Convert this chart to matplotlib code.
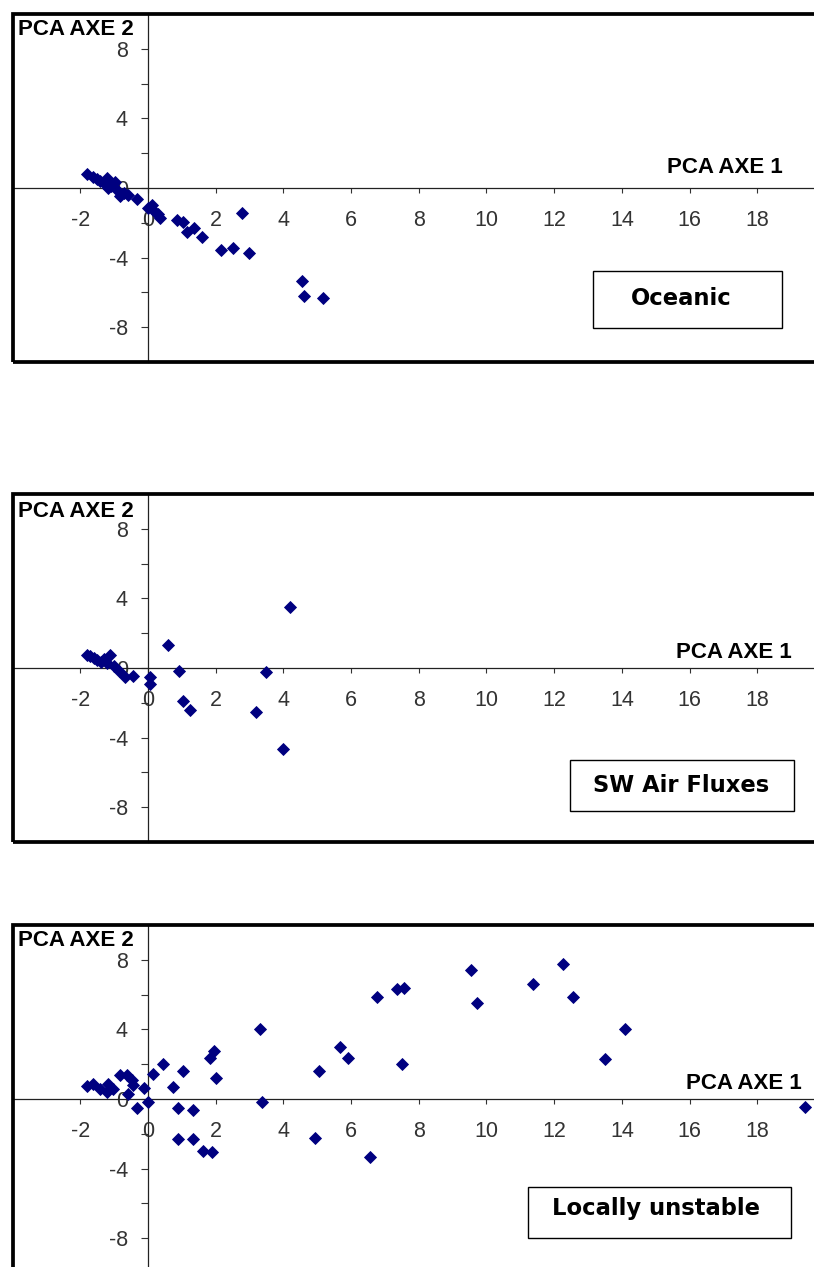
import matplotlib
matplotlib.use('Agg')
import matplotlib.pyplot as plt
from matplotlib.patches import Rectangle

plt.rcParams['axes.unicode_minus'] = False
plt.rcParams['font.family'] = ['Liberation Sans', 'DejaVu Sans']

# ---------------- data ----------------
oceanic_x = [-1.81, -1.62, -1.50, -1.42, -1.30, -1.22, -1.12, -1.10, -0.97, -1.17, -0.90,
             -0.83, -0.70, -0.58, -0.33, 0.11, 0.01, 0.21, 0.30, 0.35, 0.85, 1.04, 1.14,
             1.36, 1.59, 2.15, 2.52, 2.77, 2.99, 4.54, 4.61, 5.16]
oceanic_y = [0.80, 0.61, 0.50, 0.42, 0.30, 0.56, 0.27, 0.10, 0.36, -0.02, -0.20,
             -0.46, -0.30, -0.40, -0.65, -0.98, -1.17, -1.36, -1.50, -1.74, -1.84, -1.94, -2.51,
             -2.32, -2.84, -3.56, -3.47, -1.46, -3.75, -5.33, -6.21, -6.30]

sw_x = [-1.81, -1.70, -1.60, -1.50, -1.40, -1.30, -1.20, -1.12, -1.00, -0.85, -0.68, -0.45,
        0.06, 0.06, 0.60, 0.93, 1.02, 1.24, 3.19, 3.48, 4.00, 4.19]
sw_y = [0.75, 0.70, 0.55, 0.45, 0.35, 0.50, 0.30, 0.72, 0.10, -0.15, -0.50, -0.45,
        -0.50, -0.92, 1.32, -0.15, -1.88, -2.41, -2.55, -0.25, -4.66, 3.52]

local_x = [-1.81, -1.62, -1.42, -1.17, -1.22, -1.03, -0.83, -0.63, -0.48, -0.43, -0.58,
           -0.12, 0.01, -0.33, 0.16, 0.43, 0.75, 1.02, 0.88, 1.34, 0.88, 1.34, 1.63, 1.90,
           1.83, 1.96, 2.01, 3.31, 3.38, 4.93, 5.05, 5.67, 5.92, 6.56, 6.77, 7.37, 7.56,
           7.49, 9.53, 9.71, 11.38, 12.25, 12.56, 13.50, 14.10, 19.41]
local_y = [0.77, 0.85, 0.57, 0.86, 0.42, 0.60, 1.38, 1.38, 1.09, 0.80, 0.29,
           0.61, -0.15, -0.54, 1.44, 1.99, 0.71, 1.61, -0.52, -0.61, -2.32, -2.32, -2.97, -3.06,
           2.34, 2.78, 1.19, 4.00, -0.15, -2.22, 1.61, 3.01, 2.38, -3.31, 5.84, 6.32, 6.40,
           1.99, 7.41, 5.50, 6.59, 7.76, 5.84, 2.28, 4.00, -0.48]

panel_names = ["Oceanic", "SW Air Fluxes", "Locally unstable"]
x_ticks = [-2, 0, 2, 4, 6, 8, 10, 12, 14, 16, 18]
y_major = [-8, -4, 0, 4, 8]
y_minor = [-6, -2, 2, 6]
x_label = "PCA AXE 1"
y_label = "PCA AXE 2"

# ---------------- layout ----------------
W, H = 814, 1267
fig = plt.figure(figsize=(W / 100, H / 100), dpi=100)

left_px, width_px, height_px = 12.6, 812.4, 348
tops_px = [14, 494, 925]

layouts = [
    dict(box=(13.15, -8.05, 18.73, -4.77), txt=(15.74, -6.72), xl=(18.76, 0.86), yl=(-3.84, 8.79)),
    dict(box=(12.47, -8.22, 19.08, -5.29), txt=(15.75, -7.13), xl=(19.02, 0.57), yl=(-3.84, 8.68)),
    dict(box=(11.23, -7.99, 19.00, -5.06), txt=(15.00, -6.67), xl=(19.32, 0.57), yl=(-3.84, 8.79)),
]

series = [(oceanic_x, oceanic_y), (sw_x, sw_y), (local_x, local_y)]
navy = '#000080'

for top, (xs, ys), name, lay in zip(tops_px, series, panel_names, layouts):
    ax = fig.add_axes([left_px / W, 1 - (top + height_px) / H, width_px / W, height_px / H])
    ax.set_xlim(-4, 20)
    ax.set_ylim(-10, 10)
    for s in ['top', 'right']:
        ax.spines[s].set_visible(False)
    ax.spines['left'].set_position(('data', 0))
    ax.spines['bottom'].set_position(('data', 0))
    for s in ['left', 'bottom']:
        ax.spines[s].set_linewidth(0.9)
        ax.spines[s].set_color('#222222')
    ax.set_xticks(x_ticks)
    ax.set_xticklabels([str(t) for t in x_ticks])
    ax.set_yticks(y_major)
    ax.set_yticklabels([str(t) for t in y_major])
    ax.set_yticks(y_minor, minor=True)
    ax.tick_params(axis='x', direction='out', length=3.6, width=0.8, pad=12.5,
                   labelsize=15.5, colors='#333333')
    ax.tick_params(axis='y', which='both', direction='out', length=5, width=0.8, pad=9.5,
                   labelsize=15.5, colors='#333333')
    ax.patch.set_visible(False)

    ax.plot(xs, ys, linestyle='none', marker='D', ms=6, color=navy, mec=navy,
            mew=0.6, zorder=4, clip_on=False)

    ax.add_patch(Rectangle((0, 0), 1, 1, transform=ax.transAxes, fill=False,
                           lw=2.7, ec='black', clip_on=False, zorder=6))
    x0, y0, x1, y1 = lay['box']
    ax.add_patch(Rectangle((x0, y0), x1 - x0, y1 - y0, fill=False, lw=1.0,
                           ec='black', zorder=5, clip_on=False))
    ax.text(lay['txt'][0], lay['txt'][1], name, ha='center', va='baseline',
            fontsize=16.3, fontweight='bold', family='DejaVu Sans', zorder=6)
    ax.text(lay['xl'][0], lay['xl'][1], x_label, ha='right', va='baseline',
            fontsize=16, fontweight='bold', zorder=6)
    ax.text(lay['yl'][0], lay['yl'][1], y_label, ha='left', va='baseline',
            fontsize=16, fontweight='bold', zorder=6)

fig.savefig('out.png', dpi=100)
